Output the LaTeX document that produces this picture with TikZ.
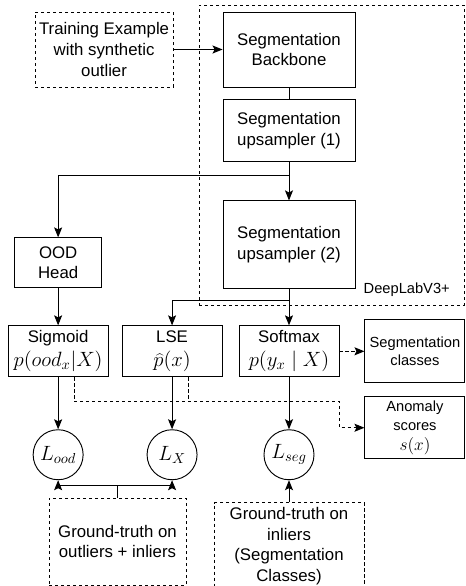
\documentclass[tikz,border=0pt]{standalone}
\usepackage{fix-cm}
\usepackage{fontspec}
\setmainfont{Liberation Sans}
\usetikzlibrary{shapes,arrows.meta,positioning,calc}

\newcommand{\boxfont}{\fontsize{12.6}{15.5}\selectfont}
\newcommand{\tagfont}{\fontsize{11}{13.5}\selectfont}
\newcommand{\fmath}[1]{{\fontsize{15.5}{17}\selectfont$#1$}}

\begin{document}
\begin{tikzpicture}[x=0.75pt, y=-0.75pt]
    \tikzset{
        block/.style = {rectangle, draw, line width=0.7pt, align=center, inner sep=1pt, font=\boxfont},
        dblock/.style = {block, dash pattern=on 2.5pt off 2pt},
        head/.style = {block, minimum width=75pt, minimum height=38.25pt, font=\fontsize{12.6}{18}\selectfont},
        loss/.style = {circle, draw, line width=0.7pt, inner sep=0pt, minimum size=37.5pt},
        line/.style = {draw, line width=0.7pt, -{Stealth[length=7.5pt, width=6pt, inset=1.5pt]}},
        wire/.style = {draw, line width=0.7pt},
        dline/.style = {line, dash pattern=on 2.5pt off 2pt},
        dwire/.style = {wire, dash pattern=on 2.5pt off 2pt}
    }
    \useasboundingbox (0,0) rectangle (466,586);

    % DeepLabV3+ part
    \node[dblock, minimum width=198.75pt, minimum height=225pt](deeplab) at (331.5,155){};
    \node[font=\tagfont, anchor=base east](deeplab_lbl) at ([xshift=-7.5pt, yshift=9pt]deeplab.south east){DeepLabV3+};

    \node[block, minimum width=99pt, minimum height=56.25pt](bb) at (289,49.5){Segmentation\\Backbone};
    \node[block, minimum width=99pt, minimum height=46.5pt](up_1)[below = 9pt of bb]{Segmentation\\upsampler (1)};
    \node[block, minimum width=99pt, minimum height=66pt](up_2)[below = 28.5pt of up_1]{Segmentation\\upsampler (2)};
    \node[dblock, minimum width=103.5pt, minimum height=56.25pt](train)[left = 36.75pt of bb]{Training Example\\with synthetic\\outlier};

    % heads
    \node[head](softmax)[below = 27pt of up_2]{Softmax\\\fmath{p(y_x\mid X)}};
    \node[head](lse)[left = 12pt of softmax]{LSE\\\fmath{\widehat{p}(x)}};
    \node[head](sigmoid)[left = 9.75pt of lse]{Sigmoid\\\fmath{p(ood_x|X)}};
    \node[block, minimum width=65.25pt, minimum height=37.5pt](ood)[above = 27.75pt of sigmoid]{OOD\\Head};

    \node[block, font=\tagfont, minimum width=75pt, minimum height=47.25pt](segcls)[right = 18.75pt of softmax]{Segmentation\\classes};
    \node[block, font=\fontsize{11}{14.5}\selectfont, minimum width=75pt, minimum height=46.5pt](anomaly)[below = 9.75pt of segcls]{Anomaly\\scores\\{\fontsize{13}{14}\selectfont$s(x)$}};

    % losses
    \node[loss](l_ood)[below = 39pt of sigmoid]{\fmath{L_{ood}}};
    \node[loss](l_x)[below = 39pt of lse]{\fmath{L_X}};
    \node[loss](l_seg)[below = 39pt of softmax]{\fmath{L_{seg}}};

    \node[dblock, minimum width=102.75pt, minimum height=65.25pt](gt_1) at (117.5,541.5){Ground-truth on\\outliers + inliers};
    \node[dblock, minimum width=112.5pt, minimum height=65.25pt](gt_2)[below = 16.5pt of l_seg]{Ground-truth on\\inliers\\(Segmentation\\Classes)};

    \coordinate (split_1) at ($(up_1.south)+(0,13)$);
    \coordinate (split_2) at ($(up_2.south)+(0,11)$);
    \coordinate (gt_join) at ($(gt_1.north)+(0,-12)$);

    \path [line] (train) -- (bb);
    \path [wire] (bb) -- (up_1);
    \path [line] (up_1) -- (up_2);
    \path [line] (split_1) -| (ood);
    \path [line] (up_2) -- (softmax);
    \path [line] (split_2) -| (lse);

    \path [line] (ood) -- (sigmoid);
    \path [line] (sigmoid) -- (l_ood);
    \path [line] (lse) -- (l_x);
    \path [line] (softmax) -- (l_seg);

    \path [dline] (softmax) -- (segcls);
    \path [dline] ([xshift=12pt]sigmoid.south) |- ([yshift=-18pt]softmax.south east) |- (anomaly);
    \path [dwire] ([xshift=12pt]lse.south) -- ++(0,24);

    \path [wire] (gt_1) -- (gt_join);
    \path [line] (gt_join) -| (l_ood);
    \path [line] (gt_join) -| (l_x);
    \path [line] (gt_2) -- (l_seg);

\end{tikzpicture}
\end{document}
